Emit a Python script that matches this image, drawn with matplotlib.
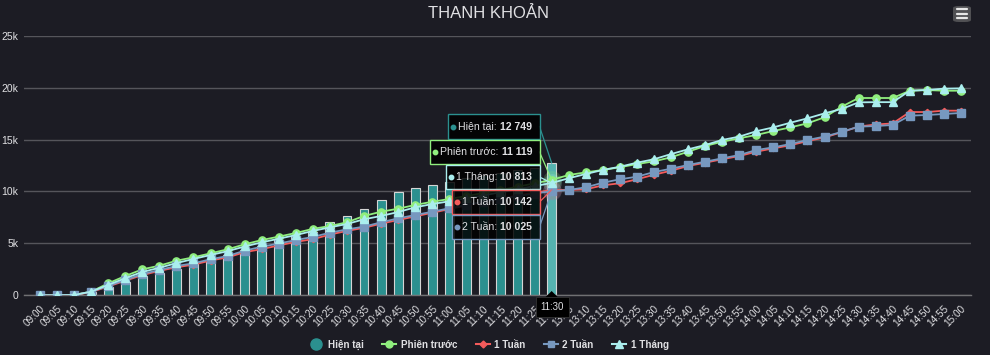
import numpy as np
import matplotlib
matplotlib.use("Agg")
import matplotlib.pyplot as plt
from matplotlib.lines import Line2D
from matplotlib.patches import Rectangle, FancyBboxPatch, Polygon

plt.rcParams['font.family'] = ['Liberation Sans', 'DejaVu Sans']

# ---- data ----
times = ['09:00', '09:05', '09:10', '09:15', '09:20', '09:25', '09:30', '09:35', '09:40', '09:45',
         '09:50', '09:55', '10:00', '10:05', '10:10', '10:15', '10:20', '10:25', '10:30', '10:35',
         '10:40', '10:45', '10:50', '10:55', '11:00', '11:05', '11:10', '11:15', '11:20', '11:25',
         '11:30', '13:05', '13:10', '13:15', '13:20', '13:25', '13:30', '13:35', '13:40', '13:45',
         '13:50', '13:55', '14:00', '14:05', '14:10', '14:15', '14:20', '14:25', '14:30', '14:35',
         '14:40', '14:45', '14:50', '14:55', '15:00']

hien_tai = [0, 0, 50, 300, 800, 1300, 1860, 2180, 2500, 3080, 3400, 3880, 4360, 4750, 5360,
            5680, 6100, 7020, 7670, 8310, 9180, 9920, 10300, 10650, 10950, 11250, 11550, 11800,
            12050, 12300, 12749]

phien_truoc = [0, 0, 30, 350, 1150, 1860, 2500, 2850, 3330, 3660, 4040, 4430, 4910, 5320, 5650,
               6000, 6400, 6670, 7030, 7640, 8050, 8340, 8700, 9010, 9270, 9560, 9850, 10150,
               10450, 10780, 11119, 11580, 11840, 12070, 12330, 12640, 12900, 13290, 13830, 14380,
               14790, 15120, 15440, 15820, 16170, 16560, 17140, 18160, 19000, 19000, 19000, 19700,
               19770, 19700, 19700]

mot_tuan = [0, 0, 30, 300, 850, 1400, 1950, 2350, 2700, 2950, 3350, 3650, 4150, 4450, 4800,
            5150, 5400, 5850, 6200, 6500, 6900, 7250, 7600, 7950, 8300, 8650, 9000, 9300, 9600,
            9880, 10142, 10145, 10200, 10590, 10790, 11170, 11610, 12000, 12450, 12770, 13100,
            13410, 13830, 14150, 14450, 14850, 15200, 15700, 16250, 16450, 16550, 17650, 17650,
            17780, 17780]

hai_tuan = [0, 0, 30, 350, 900, 1470, 2050, 2440, 2820, 3080, 3470, 3780, 4300, 4680, 4980,
            5320, 5620, 6030, 6350, 6610, 7030, 7410, 7730, 8050, 8380, 8700, 9000, 9300, 9550,
            9800, 10025, 10140, 10400, 10840, 11170, 11420, 11870, 12190, 12550, 12870, 13190,
            13510, 13990, 14250, 14570, 14960, 15280, 15730, 16240, 16300, 16400, 17300, 17360,
            17460, 17560]

mot_thang = [0, 0, 30, 350, 1000, 1650, 2250, 2650, 3100, 3500, 3880, 4250, 4700, 5100, 5450,
             5800, 6200, 6540, 6870, 7320, 7640, 8020, 8470, 8790, 9050, 9330, 9620, 9920, 10220,
             10520, 10813, 11270, 11680, 12070, 12380, 12770, 13100, 13600, 14060, 14470, 14960,
             15280, 15800, 16170, 16620, 17040, 17520, 17940, 18580, 18600, 18600, 19700, 19770,
             19900, 19930]

y_ticks = [0, 5000, 10000, 15000, 20000, 25000]
y_labels = ['0', '5k', '10k', '15k', '20k', '25k']

bg = '#1c1c24'
txt = '#e0e0e3'
c_bar, c_green, c_red, c_blue, c_cyan = '#2b908f', '#90ee7e', '#f45b5b', '#7798bf', '#aaeeee'

W, H = 990, 355
fig = plt.figure(figsize=(W / 100, H / 100), dpi=100, facecolor=bg)
ax = fig.add_axes([24 / W, 1 - 295.3 / H, 947 / W, (295.3 - 35.7) / H])
ax.set_facecolor(bg)

x = np.arange(len(times))
xb = np.arange(len(hien_tai))

bar_cols = [c_bar] * len(hien_tai)
bar_cols[-1] = '#55b3b0'
ax.bar(xb, hien_tai, width=0.52, color=bar_cols, edgecolor='#d5d5d5', linewidth=0.8, zorder=2)

ax.plot(x, phien_truoc, color=c_green, lw=1.3, marker='o', ms=5.2, zorder=4)
ax.plot(x, mot_tuan, color=c_red, lw=1.3, marker='D', ms=3.2, zorder=4)
ax.plot(x, hai_tuan, color=c_blue, lw=1.3, marker='s', ms=5.5, zorder=4)
ax.plot(x, mot_thang, color=c_cyan, lw=1.3, marker='^', ms=5.8, zorder=4)

# hover halo at 11:30
for ser, col in [(phien_truoc, c_green), (mot_tuan, c_red), (hai_tuan, c_blue), (mot_thang, c_cyan)]:
    ax.scatter([30], [ser[30]], s=180, color=col, alpha=0.22, lw=0, zorder=3)

ax.set_xlim(-0.938, 54.59)
ax.set_ylim(0, 25000)
ax.set_yticks(y_ticks)
ax.set_yticklabels(y_labels)
ax.set_xticks(x)
ax.set_xticklabels(times, rotation=45, ha='right', rotation_mode='anchor')
ax.tick_params(axis='x', length=0, pad=6, labelsize=7.2, labelcolor=txt)
ax.tick_params(axis='y', length=0, pad=4, labelsize=7.5, labelcolor=txt)
ax.grid(axis='y', color='#55555b', lw=1)
ax.set_axisbelow(True)
for s in ['top', 'right', 'left']:
    ax.spines[s].set_visible(False)
ax.spines['bottom'].set_color('#707073')
ax.spines['bottom'].set_linewidth(1)

fig.text(489 / W, 1 - 13 / H, 'THANH KHOẢN', ha='center', va='center', fontsize=12, color=txt)

# menu button
fig.add_artist(FancyBboxPatch((953 / W, 1 - 22 / H), 18 / W, 16 / H, boxstyle='round,pad=0,rounding_size=0.006',
                              transform=fig.transFigure, facecolor='#505053', edgecolor='none'))
for yy in [9, 13.5, 18]:
    fig.add_artist(Line2D([957 / W, 967 / W], [1 - yy / H] * 2, color='#e6e6e6', lw=1.6,
                          transform=fig.transFigure, solid_capstyle='round'))

# split tooltip
fig.canvas.draw()
renderer = fig.canvas.get_renderer()


def to_px(xv, yv):
    dx, dy = ax.transData.transform((xv, yv))
    return dx, H - dy


def fpt(px, py):
    return px / W, 1 - py / H


tips = [('Hiện tại', '12 749', hien_tai[30], c_bar, 448, 114, 139),
        ('Phiên trước', '11 119', phien_truoc[30], c_green, 430, 140, 164),
        ('1 Tháng', '10 813', mot_thang[30], c_cyan, 445.5, 165, 189),
        ('1 Tuần', '10 142', mot_tuan[30], c_red, 451.5, 190, 214),
        ('2 Tuần', '10 025', hai_tuan[30], c_blue, 451.5, 215, 239)]
right = 539.5
for name, val, v, col, left, top, bot in tips:
    px, py = to_px(30, v)
    mid = (top + bot) / 2
    fig.add_artist(Line2D([right / W, px / W], [1 - mid / H, 1 - py / H], color=col, lw=0.9,
                          transform=fig.transFigure, zorder=9))
    fig.add_artist(Rectangle(fpt(left, bot), (right - left) / W, (bot - top) / H, transform=fig.transFigure,
                             facecolor='#000000', alpha=0.85, edgecolor='none', zorder=10))
    fig.add_artist(Rectangle(fpt(left, bot), (right - left) / W, (bot - top) / H, transform=fig.transFigure,
                             facecolor='none', edgecolor=col, lw=1, zorder=11))
    tv = fig.text((right - 7.5) / W, 1 - mid / H, val, ha='right', va='center', fontsize=7.6,
                  color=txt, fontweight='bold', zorder=12)
    bb = tv.get_window_extent(renderer)
    tl = fig.text((bb.x0 - 3) / W, 1 - mid / H, name + ':', ha='right', va='center', fontsize=7.6,
                  color=txt, zorder=12)
    bl = tl.get_window_extent(renderer)
    fig.add_artist(Line2D([(bl.x0 - 5) / W], [1 - mid / H], marker='o', ms=3.2, color=col, lw=0,
                          transform=fig.transFigure, zorder=12))

# x crosshair label
xp, _ = to_px(30, 0)
fig.add_artist(Polygon([fpt(xp - 6, 297), fpt(xp, 291), fpt(xp + 6, 297)], closed=True,
                       transform=fig.transFigure, facecolor='#000000', edgecolor='none', zorder=10))
fig.add_artist(Rectangle(fpt(xp - 16, 317), 33 / W, 20 / H, transform=fig.transFigure,
                         facecolor='#000000', edgecolor='#333333', lw=0.6, zorder=10))
fig.text(xp / W, 1 - 307 / H, '11:30', ha='center', va='center', fontsize=7, color=txt, zorder=12)

# legend
handles = [Line2D([], [], color=c_bar, marker='o', ms=8, lw=0),
           Line2D([], [], color=c_green, marker='o', ms=5, lw=1.5),
           Line2D([], [], color=c_red, marker='D', ms=3.5, lw=1.5),
           Line2D([], [], color=c_blue, marker='s', ms=5, lw=1.5),
           Line2D([], [], color=c_cyan, marker='^', ms=5.5, lw=1.5)]
labels = ['Hiện tại', 'Phiên trước', '1 Tuần', '2 Tuần', '1 Tháng']
fig.legend(handles, labels, loc='center', bbox_to_anchor=(489 / W, 1 - 345 / H), ncol=5, frameon=False,
           prop={'weight': 'bold', 'size': 7.1}, labelcolor=txt, handlelength=1.4,
           handletextpad=0.45, columnspacing=1.9)

fig.savefig('out.png', dpi=100, facecolor=bg)
